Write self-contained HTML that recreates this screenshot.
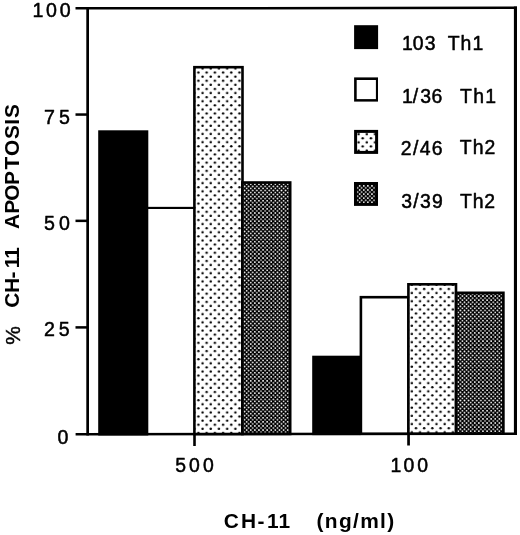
<!DOCTYPE html>
<html lang="en"><head><meta charset="utf-8"><title>CH-11 apoptosis</title>
<style>html,body{margin:0;padding:0;background:#fff}svg{display:block}</style></head>
<body>
<svg width="520" height="535" viewBox="0 0 520 535">
<defs>
<pattern id="dotsA" patternUnits="userSpaceOnUse" x="-0.570" y="4.993" width="8.207" height="8.19"><rect width="8.207" height="8.19" fill="#fff"/><circle cx="2.052" cy="2.047" r="1.25" fill="#000"/><circle cx="6.155" cy="6.143" r="1.25" fill="#000"/></pattern>
<pattern id="dotsB" patternUnits="userSpaceOnUse" x="3.558" y="0.243" width="8.207" height="8.19"><rect width="8.207" height="8.19" fill="#fff"/><circle cx="2.052" cy="2.047" r="1.25" fill="#000"/><circle cx="6.155" cy="6.143" r="1.25" fill="#000"/></pattern>
<pattern id="dotsL" patternUnits="userSpaceOnUse" x="-0.460" y="5.163" width="8.207" height="8.19"><rect width="8.207" height="8.19" fill="#fff"/><circle cx="2.052" cy="2.047" r="1.25" fill="#000"/><circle cx="6.155" cy="6.143" r="1.25" fill="#000"/></pattern>
<pattern id="chkA" patternUnits="userSpaceOnUse" x="3.708" y="3.345" width="4.1035" height="4.095"><rect width="4.1035" height="4.095" fill="#000"/><rect x="0" y="0" width="1.65" height="1.65" rx="0.55" fill="#fff"/><rect x="2.052" y="2.047" width="1.65" height="1.65" rx="0.55" fill="#fff"/></pattern>
<pattern id="chkB" patternUnits="userSpaceOnUse" x="2.036" y="0.415" width="4.1035" height="4.095"><rect width="4.1035" height="4.095" fill="#000"/><rect x="0" y="0" width="1.65" height="1.65" rx="0.55" fill="#fff"/><rect x="2.052" y="2.047" width="1.65" height="1.65" rx="0.55" fill="#fff"/></pattern>
<pattern id="chkL" patternUnits="userSpaceOnUse" x="1.831" y="0.800" width="4.1035" height="4.095"><rect width="4.1035" height="4.095" fill="#000"/><rect x="0" y="0" width="1.65" height="1.65" rx="0.55" fill="#fff"/><rect x="2.052" y="2.047" width="1.65" height="1.65" rx="0.55" fill="#fff"/></pattern>
</defs>
<rect width="520" height="535" fill="#fff"/>
<rect x="98.2" y="130.3" width="50.10" height="305.18" fill="#000"/>
<rect x="148" y="206.85" width="46" height="2.15" fill="#000"/>
<rect x="193.1" y="65.9" width="50.70" height="369.42" fill="#000"/>
<rect x="195.70" y="68.50" width="45.50" height="364.42" fill="url(#dotsA)"/>
<rect x="241.0" y="181.2" width="50.50" height="254.05" fill="#000"/>
<rect x="243.60" y="183.80" width="45.30" height="249.05" fill="url(#chkA)"/>
<rect x="312.2" y="355.7" width="48.30" height="79.44" fill="#000"/>
<rect x="359.6" y="295.9" width="50.20" height="139.16" fill="#000"/>
<rect x="362.20" y="298.50" width="45.00" height="134.16" fill="#fff"/>
<rect x="407.1" y="283.0" width="50.20" height="151.98" fill="#000"/>
<rect x="409.70" y="285.60" width="45.00" height="146.98" fill="url(#dotsB)"/>
<rect x="454.8" y="291.5" width="49.90" height="143.41" fill="#000"/>
<rect x="457.40" y="294.10" width="44.70" height="138.41" fill="url(#chkB)"/>
<polygon points="75.5,7.1 517,6.55 517,9.05 75.5,9.6" fill="#000"/>
<polygon points="75.6,433.1 517,432.45 517,434.9 75.6,435.6" fill="#000"/>
<rect x="86.3" y="7.0" width="2.7" height="428.5" fill="#000"/>
<rect x="513.9" y="6.55" width="3.1" height="428.35" fill="#000"/>
<rect x="75.5" y="113.30" width="12" height="2.5" fill="#000"/>
<rect x="75.5" y="219.60" width="12" height="2.5" fill="#000"/>
<rect x="75.5" y="326.15" width="12" height="2.5" fill="#000"/>
<rect x="193.2" y="434" width="2.6" height="12" fill="#000"/>
<rect x="407.2" y="434" width="2.7" height="11.5" fill="#000"/>
<rect x="354.1" y="25.2" width="24" height="23.9" fill="#000"/>
<rect x="354.1" y="77.4" width="23.9" height="24.2" fill="#000"/><rect x="356.7" y="80" width="19.2" height="19.1" fill="#fff"/>
<rect x="354.1" y="129.9" width="24" height="24" fill="#000"/><rect x="357.1" y="132.9" width="18" height="18" fill="url(#dotsL)"/>
<rect x="354.0" y="182" width="24" height="23.9" fill="#000"/><rect x="357.1" y="185" width="18" height="18" fill="url(#chkL)"/>
<g font-family="'Liberation Sans', Arial, Helvetica, sans-serif" fill="#000" stroke="#000" stroke-width="0.5" stroke-linejoin="round">
<text x="32.60 45.93 59.73" y="16.6" font-size="19.6">100</text>
<text x="43.90" y="123.5" font-size="19.6" letter-spacing="4.23">75</text>
<text x="44.12" y="230.0" font-size="19.6" letter-spacing="3.95">50</text>
<text x="44.11" y="336.25" font-size="19.6" letter-spacing="3.71">25</text>
<text x="57.53" y="443.5" font-size="19.6" letter-spacing="0.00">0</text>
<text x="175.22" y="472.4" font-size="19.4" letter-spacing="3.08">500</text>
<text x="390.57 403.44 417.14" y="472.1" font-size="19.4">100</text>
<text x="401.97 412.64 424.66" y="50.05" font-size="19.4">103</text>
<text x="447.76" y="50.0" font-size="19.4" letter-spacing="1.03">Th1</text>
<text x="401.97 412.80 420.16 431.61" y="103.45" font-size="19.4">1/36</text>
<text x="459.96" y="103.45" font-size="19.4" letter-spacing="1.38">Th1</text>
<text x="400.72" y="154.55" font-size="19.4" letter-spacing="1.39">2/46</text>
<text x="459.76" y="154.3" font-size="19.4" letter-spacing="1.09">Th2</text>
<text x="401.26" y="207.85" font-size="19.4" letter-spacing="1.27">3/39</text>
<text x="459.96" y="207.5" font-size="19.4" letter-spacing="0.84">Th2</text>
</g>
<g font-family="'Liberation Sans', Arial, Helvetica, sans-serif" fill="#000" stroke="#000" stroke-width="0.0" stroke-linejoin="round">
<text x="223.64 240.90 257.48 266.94 278.54" y="527.7" font-size="20.9" font-weight="bold">CH-11</text>
<text x="316.46" y="527.7" font-size="20.9" letter-spacing="1.36" font-weight="bold">(ng/ml)</text>
<g transform="translate(19.3,0) rotate(-90)">
<text x="-307.86 -292.90 -278.52 -268.26 -258.76" y="0" font-size="20.9" font-weight="bold">CH-11</text>
<text x="-228.98 -213.71 -200.82 -185.11 -169.44 -156.07 -138.91 -124.75 -118.01" y="0" font-size="20.9" font-weight="bold">APOPTOSIS</text>
</g>
</g>
<g font-family="'Liberation Sans', Arial, Helvetica, sans-serif" fill="#000" stroke="#000" stroke-width="0.4" transform="translate(20.0,0) rotate(-90)">
<text x="-344.64" y="0" font-size="20.9" letter-spacing="0.00">%</text>
</g>
</svg>
</body></html>
